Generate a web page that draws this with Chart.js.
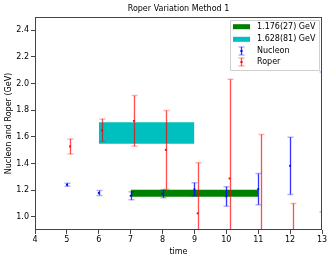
<!DOCTYPE html>
<html lang="en">
<head>
  <meta charset="UTF-8" />
  <title>Roper Variation Method 1</title>
  <script src="https://cdn.jsdelivr.net/npm/chart.js"></script>
  <style>
    html, body { margin: 0; padding: 0; background: #fff; }
    .wrap { width: 333px; height: 261px; }
  </style>
</head>
<body>
  <div class="wrap"><canvas id="chart" width="333" height="261"></canvas></div>

  <script>
    // nucleon points
    const nucTime = [5, 6, 7, 8, 9, 10, 11, 12, 13];
    const nucMass = [1.240, 1.178, 1.157, 1.172, 1.205, 1.152, 1.207, 1.382, 1.562];
    const nucErr  = [0.012, 0.018, 0.030, 0.030, 0.050, 0.073, 0.117, 0.215, 0.525];

    // roper points (shifted by 0.1 in time)
    const ropTime = [5.1, 6.1, 7.1, 8.1, 9.1, 10.1, 11.1, 12.1];
    const ropMass = [1.527, 1.649, 1.720, 1.502, 1.025, 1.287, 0.850, 0.600];
    const ropErr  = [0.057, 0.085, 0.190, 0.295, 0.380, 0.745, 0.767, 0.500];

    // fit bands: center +- error over a time range
    const bandLabels = ["1.176(27) GeV", "1.628(81) GeV"];
    const bandCenter = [1.176, 1.628];
    const bandErr    = [0.027, 0.081];
    const bandFrom   = [7, 6];
    const bandTo     = [11, 9];
    const bandColors = ["#008000", "#00bfbf"];

    const xTicks = [4, 5, 6, 7, 8, 9, 10, 11, 12, 13];
    const yTicks = [1.0, 1.2, 1.4, 1.6, 1.8, 2.0, 2.2, 2.4];

    const FONT = "'DejaVu Sans', sans-serif";
    const TITLE = "Roper Variation Method 1";

    function bandSets(i) {
      const lo = bandCenter[i] - bandErr[i];
      const hi = bandCenter[i] + bandErr[i];
      return [
        {
          label: bandLabels[i] + " lo", type: "line", order: 5,
          data: [{ x: bandFrom[i], y: lo }, { x: bandTo[i], y: lo }],
          borderWidth: 0, pointRadius: 0, fill: false
        },
        {
          label: bandLabels[i], type: "line", order: 5,
          data: [{ x: bandFrom[i], y: hi }, { x: bandTo[i], y: hi }],
          borderWidth: 0, pointRadius: 0, fill: "-1",
          backgroundColor: bandColors[i]
        }
      ];
    }

    const series = {
      Nucleon: { t: nucTime, m: nucMass, e: nucErr, line: "rgba(0,0,255,0.8)", cap: "rgba(0,0,255,0.3)", dot: "#0000ff" },
      Roper:   { t: ropTime, m: ropMass, e: ropErr, line: "rgba(255,0,0,0.7)", cap: "rgba(255,0,0,0.3)", dot: "#ff0000" }
    };

    // error bars drawn just before each point set
    const errorBars = {
      id: "errorBars",
      beforeDatasetDraw(chart, args) {
        const s = series[args.meta.label];
        if (!s) return;
        const { ctx, chartArea: a, scales: { x, y } } = chart;
        ctx.save();
        ctx.beginPath();
        ctx.rect(a.left, a.top, a.right - a.left, a.bottom - a.top);
        ctx.clip();
        for (let i = 0; i < s.t.length; i++) {
          const px = Math.round(x.getPixelForValue(s.t[i])) + 0.5;
          const top = y.getPixelForValue(s.m[i] + s.e[i]);
          const bot = y.getPixelForValue(s.m[i] - s.e[i]);
          ctx.strokeStyle = s.line;
          ctx.lineWidth = 1.3;
          ctx.beginPath();
          ctx.moveTo(px, top);
          ctx.lineTo(px, bot);
          ctx.stroke();
          ctx.strokeStyle = s.cap;
          ctx.lineWidth = 1.5;
          ctx.beginPath();
          ctx.moveTo(px - 3, top); ctx.lineTo(px + 3, top);
          ctx.moveTo(px - 3, bot); ctx.lineTo(px + 3, bot);
          ctx.stroke();
        }
        ctx.restore();
      }
    };

    // title, frame on all four sides, legend box inside the plot
    const frameLegend = {
      id: "frameLegend",
      afterDraw(chart) {
        const { ctx, chartArea: a } = chart;
        ctx.save();
        ctx.font = "8px " + FONT;
        ctx.fillStyle = "#000";
        ctx.textAlign = "center";
        ctx.textBaseline = "middle";
        ctx.fillText(TITLE, (a.left + a.right) / 2, 8.5);

        ctx.strokeStyle = "#444";
        ctx.lineWidth = 1;
        ctx.strokeRect(a.left + 0.5, a.top + 0.5, a.right - a.left - 1, a.bottom - a.top - 1);

        const bx = 230, by = 20, bw = 89, bh = 50;
        ctx.fillStyle = "rgba(255,255,255,0.8)";
        ctx.strokeStyle = "#d0d0d0";
        ctx.beginPath();
        ctx.rect(bx + 0.5, by + 0.5, bw, bh);
        ctx.fill();
        ctx.stroke();

        ctx.textAlign = "left";
        const rows = [26.7, 39.3, 51.3, 62.3];
        for (let i = 0; i < 2; i++) {
          ctx.fillStyle = bandColors[i];
          ctx.fillRect(233, rows[i] - 2.5, 17, 5);
          ctx.fillStyle = "#000";
          ctx.fillText(bandLabels[i], 257, rows[i]);
        }
        ["Nucleon", "Roper"].forEach((name, k) => {
          const s = series[name];
          const cy = Math.round(rows[2 + k]);
          ctx.strokeStyle = s.line;
          ctx.lineWidth = 1.3;
          ctx.beginPath();
          ctx.moveTo(241.5, cy - 4); ctx.lineTo(241.5, cy + 4);
          ctx.stroke();
          ctx.strokeStyle = s.cap;
          ctx.lineWidth = 1.5;
          ctx.beginPath();
          ctx.moveTo(238.5, cy - 4); ctx.lineTo(244.5, cy - 4);
          ctx.moveTo(238.5, cy + 4); ctx.lineTo(244.5, cy + 4);
          ctx.stroke();
          ctx.fillStyle = s.dot;
          ctx.fillRect(240.5, cy - 1, 2, 2);
          ctx.fillStyle = "#000";
          ctx.fillText(name, 257, cy);
        });
        ctx.restore();
      }
    };

    new Chart(document.getElementById("chart"), {
      type: "scatter",
      data: {
        datasets: [
          ...bandSets(0),
          ...bandSets(1),
          {
            label: "Nucleon", order: 1,
            data: nucTime.map((t, i) => ({ x: t, y: nucMass[i] })),
            pointStyle: "rect", pointRadius: 1.3,
            backgroundColor: "#0000ff", borderColor: "#0000ff", borderWidth: 0
          },
          {
            label: "Roper", order: 0,
            data: ropTime.map((t, i) => ({ x: t, y: ropMass[i] })),
            pointStyle: "rect", pointRadius: 1.3,
            backgroundColor: "#ff0000", borderColor: "#ff0000", borderWidth: 0
          }
        ]
      },
      options: {
        responsive: false,
        animation: false,
        layout: { padding: { top: 17, right: 11, left: 4, bottom: 0 } },
        plugins: {
          legend: { display: false },
          tooltip: { enabled: false },
          title: { display: false }
        },
        scales: {
          x: {
            type: "linear", min: 4, max: 13,
            afterBuildTicks: s => { s.ticks = xTicks.map(v => ({ value: v })); },
            afterFit: s => { s.height = 31; },
            grid: { drawOnChartArea: false, tickLength: 4, color: "#444" },
            border: { display: false },
            ticks: { color: "#000", padding: 1, maxRotation: 0, font: { family: FONT, size: 8 } },
            title: { display: true, text: "time", color: "#000", padding: { top: 2 }, font: { family: FONT, size: 8 } }
          },
          y: {
            type: "linear", min: 0.9, max: 2.5,
            afterBuildTicks: s => { s.ticks = yTicks.map(v => ({ value: v })); },
            afterFit: s => { s.width = 31; },
            grid: { drawOnChartArea: false, tickLength: 4, color: "#444" },
            border: { display: false },
            ticks: { color: "#000", padding: 2, font: { family: FONT, size: 8 },
                     callback: v => v.toFixed(1) },
            title: { display: true, text: "Nucleon and Roper (GeV)", color: "#000", padding: 0, font: { family: FONT, size: 8 } }
          }
        }
      },
      plugins: [errorBars, frameLegend]
    });
  </script>
</body>
</html>
